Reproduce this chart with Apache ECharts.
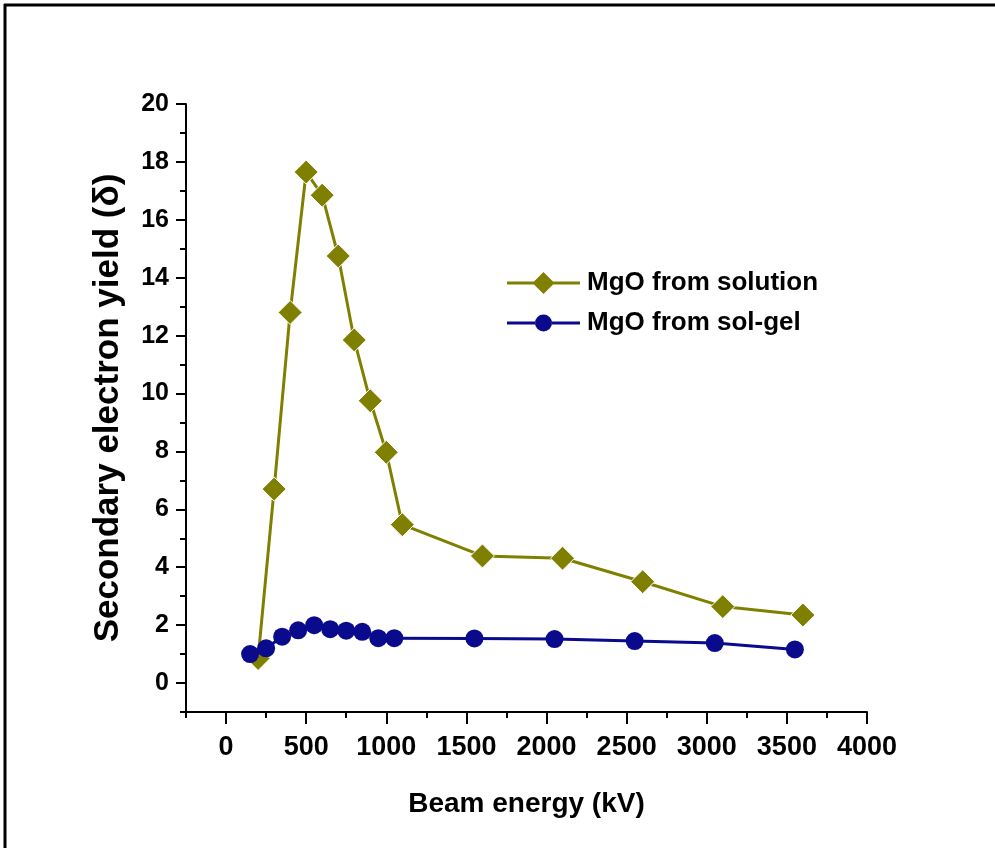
<!DOCTYPE html>
<html>
<head>
<meta charset="utf-8">
<script src="https://cdn.jsdelivr.net/npm/echarts@6/dist/echarts.min.js"></script>
<style>
  html, body { margin: 0; padding: 0; background: #fff; }
  #chart { width: 995px; height: 848px; }
</style>
</head>
<body>
<div id="chart"></div>
<script>
// beam energy (kV) and yield
const solutionEnergy = [200, 300, 400, 500, 600, 700, 800, 900, 1000, 1100, 1600, 2100, 2600, 3100, 3600];
const solutionYield = [0.85, 6.7, 12.8, 17.65, 16.85, 14.75, 11.85, 9.75, 7.97, 5.47, 4.39, 4.31, 3.5, 2.64, 2.35];

const solgelEnergy = [150, 250, 350, 450, 550, 650, 750, 850, 950, 1050, 1550, 2050, 2550, 3050, 3550];
const solgelYield = [1.0, 1.2, 1.6, 1.82, 2.0, 1.86, 1.81, 1.77, 1.55, 1.55, 1.54, 1.52, 1.45, 1.38, 1.16];

const xTicks = [0, 500, 1000, 1500, 2000, 2500, 3000, 3500, 4000];
const yTicks = [0, 2, 4, 6, 8, 10, 12, 14, 16, 18, 20];

const olive = '#808000';
const navy = '#0a0a8c';
const font = '"Liberation Sans", Arial, sans-serif';

// legend icons: line with a big marker in the middle (73 x 22 box)
const diamondIcon = 'path://M0,9.5 L27,9.5 L36.5,0 L46,9.5 L73,9.5 L73,12.5 L46,12.5 L36.5,22 L27,12.5 L0,12.5 Z';
const circleIcon = 'path://M0,9.5 L28.2,9.5 L28.2,12.5 L0,12.5 Z M44.8,9.5 L73,9.5 L73,12.5 L44.8,12.5 Z ' +
  'M28,11 A8.5,8.5 0 1,0 45,11 A8.5,8.5 0 1,0 28,11 Z M36.4,0 L36.6,0 L36.6,0.1 Z M36.4,22 L36.6,22 L36.6,21.9 Z';

const chart = echarts.init(document.getElementById('chart'));

const zip = (xs, ys) => xs.map((x, i) => [x, ys[i]]);
const plain = v => String(v);

const option = {
  backgroundColor: '#fff',
  animation: false,
  grid: { left: 186, right: 128, top: 104, bottom: 136 },
  legend: {
    left: 507,
    top: 270,
    padding: 0,
    orient: 'vertical',
    itemWidth: 73,
    itemHeight: 22,
    itemGap: 14,
    itemStyle: { borderWidth: 0 },
    textStyle: { fontFamily: font, fontSize: 26, fontWeight: 'bold', color: '#000', lineHeight: 22, padding: [0, 0, 0, 2] },
    data: [
      { name: 'MgO from solution', icon: diamondIcon },
      { name: 'MgO from sol-gel', icon: circleIcon }
    ]
  },
  xAxis: [
    {
      type: 'value',
      min: -250,
      max: 4000,
      interval: 250,
      name: 'Beam energy (kV)',
      nameLocation: 'middle',
      nameGap: 78,
      nameTextStyle: { fontFamily: font, fontSize: 28, fontWeight: 'bold', color: '#000' },
      axisLine: { show: true, onZero: false, lineStyle: { color: '#000', width: 2 } },
      axisTick: { show: true, length: 12, customValues: xTicks, lineStyle: { color: '#000', width: 2 } },
      axisLabel: { customValues: xTicks, formatter: plain, margin: 22, fontFamily: font, fontSize: 27, fontWeight: 'bold', color: '#000' },
      splitLine: { show: false }
    },
    {
      type: 'value',
      min: -250,
      max: 4000,
      interval: 250,
      position: 'bottom',
      axisLine: { show: false, onZero: false },
      axisTick: { show: true, length: 6, lineStyle: { color: '#000', width: 2 } },
      axisLabel: { show: false },
      splitLine: { show: false }
    }
  ],
  yAxis: [
    {
      type: 'value',
      min: -1,
      max: 20,
      interval: 1,
      name: 'Secondary electron yield (δ)',
      nameLocation: 'middle',
      nameRotate: 90,
      nameGap: 60,
      nameTextStyle: { fontFamily: font, fontSize: 35, fontWeight: 'bold', color: '#000' },
      axisLine: { show: true, onZero: false, lineStyle: { color: '#000', width: 2 } },
      axisTick: { show: true, length: 10, customValues: yTicks, lineStyle: { color: '#000', width: 2 } },
      axisLabel: { customValues: yTicks, formatter: plain, margin: 17, fontFamily: font, fontSize: 25, fontWeight: 'bold', color: '#000' },
      splitLine: { show: false }
    },
    {
      type: 'value',
      min: -1,
      max: 20,
      interval: 1,
      position: 'left',
      axisLine: { show: false, onZero: false },
      axisTick: { show: true, length: 6, lineStyle: { color: '#000', width: 2 } },
      axisLabel: { show: false },
      splitLine: { show: false }
    }
  ],
  graphic: [
    { type: 'line', shape: { x1: 4, y1: 5, x2: 995, y2: 5 }, style: { stroke: '#000', lineWidth: 3 } },
    { type: 'line', shape: { x1: 5, y1: 4, x2: 5, y2: 848 }, style: { stroke: '#000', lineWidth: 3 } }
  ],
  series: [
    {
      name: 'MgO from solution',
      type: 'line',
      xAxisIndex: 0,
      yAxisIndex: 0,
      data: zip(solutionEnergy, solutionYield),
      symbol: 'diamond',
      symbolSize: 24,
      lineStyle: { color: olive, width: 3 },
      itemStyle: { color: olive, borderColor: '#fff', borderWidth: 1 },
      z: 2
    },
    {
      name: 'MgO from sol-gel',
      type: 'line',
      xAxisIndex: 0,
      yAxisIndex: 0,
      data: zip(solgelEnergy, solgelYield),
      symbol: 'circle',
      symbolSize: 18,
      lineStyle: { color: navy, width: 3 },
      itemStyle: { color: navy },
      z: 3
    }
  ]
};

chart.setOption(option);
</script>
</body>
</html>
